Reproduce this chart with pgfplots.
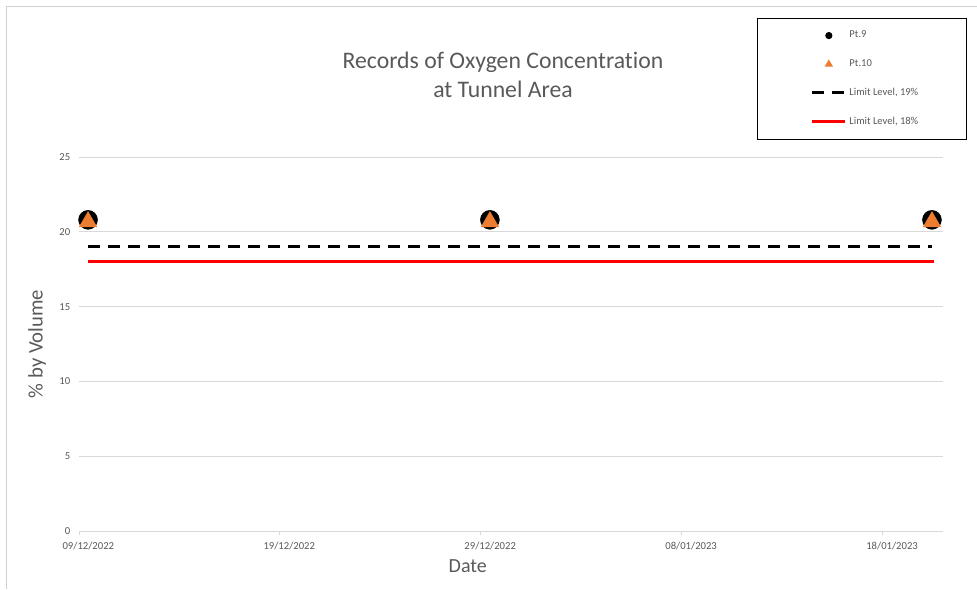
\documentclass[border=0pt]{standalone}
\usepackage{pgfplots}
\pgfplotsset{compat=1.18}
\usepackage{fontspec}
\setmainfont{Carlito}[Ligatures={NoCommon}]
\definecolor{txtgray}{HTML}{595959}
\definecolor{gridgray}{HTML}{D9D9D9}
\definecolor{frameg}{HTML}{D0D0D0}
\definecolor{orangeT}{HTML}{ED7D31}
\begin{document}
\begin{tikzpicture}
\useasboundingbox (0,0) rectangle (732.75pt,-441.75pt);
\begin{scope}[x=0.75pt,y=-0.75pt]
\draw[frameg,line width=0.75pt] (6,589) -- (6,6) -- (977,6);
\node[text=txtgray,align=center,font=\fontsize{17.8}{21.75}\selectfont] at (503,74.5) {Records of Oxygen Concentration\\at Tunnel Area};
\end{scope}
\begin{axis}[
  at={(59.25pt,-398.25pt)}, anchor=south west,
  scale only axis, width=648pt, height=280.5pt,
  xmin=0, xmax=43, ymin=0, ymax=25,
  xtick={0,10,20,30,40},
  xticklabels={09/12/2022,19/12/2022,29/12/2022,08/01/2023,18/01/2023},
  ytick={0,5,10,15,20,25},
  ymajorgrids, grid style={gridgray, line width=0.75pt},
  axis x line*=bottom, axis y line*=left,
  x axis line style={gridgray, line width=0.75pt, -},
  y axis line style={draw=none},
  xtick style={gridgray, line width=0.75pt},
  ytick style={draw=none},
  tick align=outside, major tick length=3pt,
  /pgf/number format/assume math mode=true,
  ticklabel style={font=\fontsize{8}{9.6}\selectfont, text=txtgray},
  xticklabel style={anchor=north, yshift=-1.5pt, xshift=7pt},
  yticklabel style={anchor=east, xshift=0pt},
  xlabel={Date}, ylabel={\% by Volume},
  every axis x label/.style={at={(axis description cs:0.450,-0.0936)}, anchor=center, font=\fontsize{15}{17}\selectfont, text=txtgray},
  every axis y label/.style={at={(axis description cs:-0.0486,0.5)}, anchor=center, rotate=90, font=\fontsize{15.5}{17}\selectfont, text=txtgray},
  clip=false,
  legend style={at={(axis description cs:0.7847,1.3717)}, anchor=north west,
    draw=black, line width=0.75pt, font=\fontsize{7.9}{9.5}\selectfont, text=txtgray,
    inner xsep=34pt, inner ysep=7.5pt, row sep=10.8pt, cells={anchor=west}},
  legend image code/.code={\path (-6pt,0pt); \draw[mark repeat=2,mark phase=2,#1] plot coordinates {(0pt,0pt) (12.4pt,0pt) (24.75pt,0pt)};},
]
\addplot[only marks, mark=*, mark size=7.1pt, black, legend image post style={mark size=2.3pt}] coordinates {(0.45,20.8) (20.45,20.8) (42.45,20.8)};
\addlegendentry{Pt.9}
\addplot[only marks, mark=triangle*, mark size=7.6pt, orangeT, mark options={yshift=-1.5pt}, legend image post style={mark size=2.8pt, mark options={yshift=0pt}}] coordinates {(0.45,20.8) (20.45,20.8) (42.45,20.8)};
\addlegendentry{Pt.10}
\addplot[black, line width=2.25pt, dash pattern=on 9pt off 6pt, no marks] coordinates {(0.45,19) (42.45,19)};
\addlegendentry{Limit Level, 19\%}
\addplot[red, line width=2.25pt, no marks] coordinates {(0.45,18) (42.55,18)};
\addlegendentry{Limit Level, 18\%}
\end{axis}
\end{tikzpicture}
\end{document}
